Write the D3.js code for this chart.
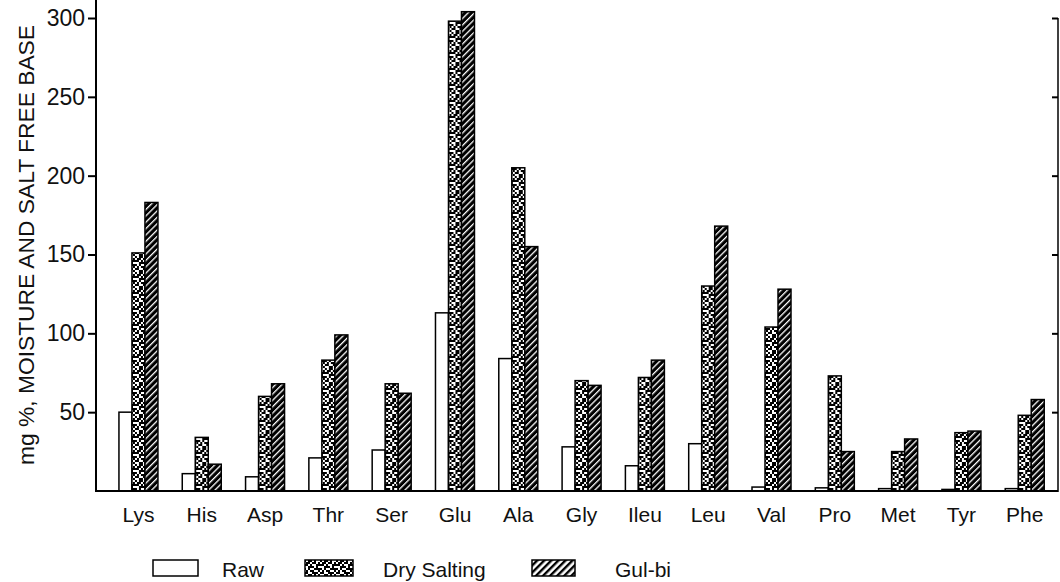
<!DOCTYPE html>
<html>
<head>
<meta charset="utf-8">
<script src="https://cdn.jsdelivr.net/npm/d3@7"></script>
<style>
  html, body { margin: 0; padding: 0; background: #fff; }
  svg { display: block; }
  text { font-family: "Liberation Sans", Arial, sans-serif; fill: #111; }
</style>
</head>
<body>
<script>
const categories = ["Lys","His","Asp","Thr","Ser","Glu","Ala","Gly","Ileu","Leu","Val","Pro","Met","Tyr","Phe"];
const seriesNames = ["Raw","Dry Salting","Gul-bi"];
const raw        = [50, 11, 9, 21, 26, 113, 84, 28, 16, 30, 2.5, 2, 1.5, 1, 1.5];
const drySalting = [151, 34, 60, 83, 68, 298, 205, 70, 72, 130, 104, 73, 25, 37, 48];
const gulbi      = [183, 17, 68, 99, 62, 304, 155, 67, 83, 168, 128, 25, 33, 38, 58];
const yTicks = [50, 100, 150, 200, 250, 300];
const yTitle = "mg %, MOISTURE AND SALT FREE BASE";

const W = 1060, H = 582;
const svg = d3.select("body").append("svg").attr("width", W).attr("height", H);
const defs = svg.append("defs");

// Dry salting speckle pattern (texture tile)
const speckle = [
  "10110100",
  "01101101",
  "11010011",
  "00111010",
  "10100111",
  "01011001",
  "11001110",
  "00110101"
];
const pDry = defs.append("pattern").attr("id","pDry").attr("patternUnits","userSpaceOnUse")
  .attr("width",16).attr("height",16);
pDry.append("rect").attr("width",16).attr("height",16).attr("fill","#fff");
speckle.forEach((row, r) => row.split("").forEach((c, k) => {
  if (c === "1") pDry.append("rect").attr("x",k*2).attr("y",r*2).attr("width",2).attr("height",2).attr("fill","#000");
}));

// Gul-bi dark hatch (bars)
const pGul = defs.append("pattern").attr("id","pGul").attr("patternUnits","userSpaceOnUse")
  .attr("width",4.5).attr("height",4.5).attr("patternTransform","rotate(45)");
pGul.append("rect").attr("width",4.5).attr("height",4.5).attr("fill","#000");
pGul.append("rect").attr("x",0).attr("y",0).attr("width",1.3).attr("height",4.5).attr("fill","#fff");

// Gul-bi light hatch (legend)
const pGulL = defs.append("pattern").attr("id","pGulL").attr("patternUnits","userSpaceOnUse")
  .attr("width",5).attr("height",5).attr("patternTransform","rotate(45)");
pGulL.append("rect").attr("width",5).attr("height",5).attr("fill","#fff");
pGulL.append("rect").attr("x",0).attr("y",0).attr("width",2.4).attr("height",5).attr("fill","#000");

const fills = {"Raw":"#fff", "Dry Salting":"url(#pDry)", "Gul-bi":"url(#pGul)"};
const legendFills = {"Raw":"#fff", "Dry Salting":"url(#pDry)", "Gul-bi":"url(#pGulL)"};

const x0 = 96, x1 = 1058, yBase = 491, yTop = 18;
const x = d3.scaleBand().domain(categories).range([x0, x1])
  .paddingInner(0.384).paddingOuter(0.29).align(0.625);
const xs = d3.scaleBand().domain(seriesNames).range([0, x.bandwidth()]);
const y = d3.scaleLinear().domain([0, 300]).range([yBase, yTop]);

const table = categories.map((c, i) => ({
  cat: c,
  values: [
    {s: "Raw", v: raw[i]},
    {s: "Dry Salting", v: drySalting[i]},
    {s: "Gul-bi", v: gulbi[i]}
  ]
}));

// Bars
const groups = svg.append("g").selectAll("g").data(table).join("g")
  .attr("transform", d => `translate(${x(d.cat)},0)`);
groups.selectAll("rect").data(d => d.values).join("rect")
  .attr("x", d => xs(d.s))
  .attr("y", d => y(d.v))
  .attr("width", xs.bandwidth())
  .attr("height", d => y(0) - y(d.v))
  .attr("fill", d => fills[d.s])
  .attr("stroke", "#000")
  .attr("stroke-width", 1.5);

// Left axis
const yAxis = svg.append("g").attr("transform", `translate(${x0},0)`)
  .call(d3.axisLeft(y).tickValues(yTicks).tickSize(8).tickPadding(3));
yAxis.select(".domain").remove();
yAxis.selectAll(".tick line").attr("stroke","#000").attr("stroke-width",2);
yAxis.selectAll(".tick text").attr("font-size", 23).attr("fill","#111")
  .style("font-family", '"Liberation Sans", Arial, sans-serif');
svg.append("line").attr("x1", x0).attr("x2", x0).attr("y1", 0).attr("y2", yBase + 1)
  .attr("stroke","#000").attr("stroke-width",2);

// Right axis
const yAxisR = svg.append("g").attr("transform", `translate(${x1},0)`)
  .call(d3.axisLeft(y).tickValues(yTicks).tickSize(6).tickFormat(""));
yAxisR.select(".domain").remove();
yAxisR.selectAll(".tick line").attr("stroke","#000").attr("stroke-width",2);
svg.append("line").attr("x1", x1).attr("x2", x1).attr("y1", y(300)).attr("y2", yBase + 1)
  .attr("stroke","#000").attr("stroke-width",1.5);

// Baseline / x axis
const xAxis = svg.append("g").attr("transform", `translate(0,${yBase})`)
  .call(d3.axisBottom(x).tickSize(0).tickPadding(16));
xAxis.select(".domain").remove();
xAxis.selectAll(".tick text").attr("font-size", 21).attr("fill","#111")
  .style("font-family", '"Liberation Sans", Arial, sans-serif');
svg.append("line").attr("x1", x0 - 1).attr("x2", x1).attr("y1", yBase).attr("y2", yBase)
  .attr("stroke","#000").attr("stroke-width",2);

// Y title
svg.append("text")
  .attr("transform", `translate(34,245) rotate(-90)`)
  .attr("text-anchor","middle")
  .attr("font-size", 22)
  .attr("textLength", 440)
  .attr("lengthAdjust", "spacingAndGlyphs")
  .text(yTitle);

// Legend
const legendPos = [
  {s: "Raw", bx: 153, bw: 45, tx: 222},
  {s: "Dry Salting", bx: 305, bw: 48, tx: 383},
  {s: "Gul-bi", bx: 532, bw: 43, tx: 615}
];
const lg = svg.append("g").selectAll("g").data(seriesNames).join("g");
lg.append("rect")
  .attr("x", (d, i) => legendPos[i].bx).attr("y", 560)
  .attr("width", (d, i) => legendPos[i].bw).attr("height", 16)
  .attr("fill", d => legendFills[d]).attr("stroke","#000").attr("stroke-width",1.5);
lg.append("text")
  .attr("x", (d, i) => legendPos[i].tx).attr("y", 577)
  .attr("font-size", 21)
  .text(d => d);
</script>
</body>
</html>
